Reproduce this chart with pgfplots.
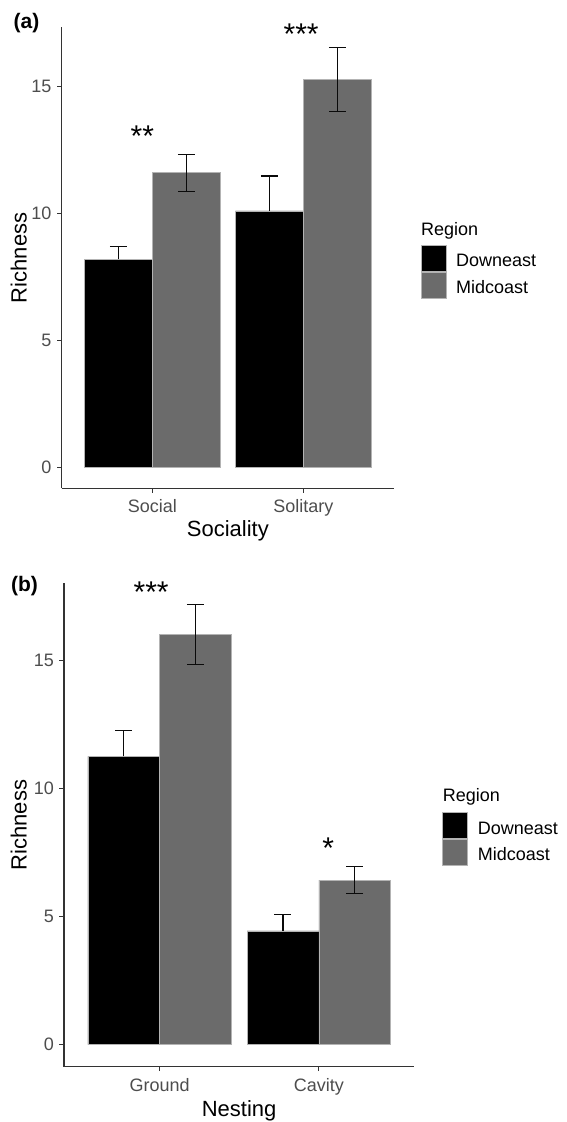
\documentclass[border=0pt]{standalone}
\usepackage{fontspec}
\setmainfont{Liberation Sans}
\usepackage{pgfplots}
\pgfplotsset{compat=1.18}
\definecolor{midgray}{HTML}{6B6B6B}
\definecolor{tickgray}{HTML}{4D4D4D}
\definecolor{axgray}{HTML}{333333}
\definecolor{edgegray}{HTML}{B3B3B3}
\definecolor{errcol}{HTML}{0A0A0A}

\pgfplotsset{
  every axis/.append style={
    scale only axis,
    xmin=-0.6, xmax=1.6,
    axis x line*=bottom, axis y line*=left,
    axis line style={-, draw=axgray, line width=1.1pt},
    tick style={draw=axgray, line width=1.1pt},
    tick align=outside,
    major tick length=4.5pt,
    xtick={0,1}, ytick={0,5,10,15},
    /pgf/number format/assume math mode=true,
    tick label style={font=\fontsize{18}{20}\selectfont, text=tickgray},
    yticklabel style={anchor=east, inner sep=0pt, xshift=-5.5pt},
    xticklabel style={anchor=base, inner sep=0pt},
    label style={font=\fontsize{22}{24}\selectfont, text=black, inner sep=0pt},
    clip=false,
    legend cell align=left,
    legend style={draw=none, fill=none, inner sep=0pt, outer sep=0pt,
      row sep=0pt, column sep=10pt,
      nodes={inner sep=0pt, text height=17pt, text depth=0pt,
        font=\fontsize{18}{20}\selectfont, text=black}},
  },
  keyimg/.style={legend image code/.code={%
    \draw[##1,/tikz/.cd] (0pt,-13pt) rectangle (25pt,13pt);}},
  errsty/.style={error bars/.cd, y dir=#1, y explicit,
    error mark=|,
    error bar style={draw=errcol, line width=1.2pt},
    error mark options={draw=errcol, line width=1.2pt, mark size=8.5pt}},
  barD/.style={fill=black, draw=edgegray, line width=0.5pt, bar shift=-0.225,
    keyimg, errsty=plus},
  barM/.style={fill=midgray, draw=edgegray, line width=0.5pt, bar shift=0.225,
    keyimg, errsty=both},
}

\begin{document}
\begin{tikzpicture}
\path[use as bounding box] (0,0) rectangle (566pt,-1122pt);

% ---------- panel (a)
\begin{axis}[
  at={(61.7pt,-488.3pt)}, anchor=south west,
  width=332.3pt, height=461pt,
  ybar, bar width=0.45,
  ymin=-0.825, ymax=17.325,
  xticklabels={Social,Solitary},
  xticklabel style={yshift=-19.7pt},
  xlabel={Sociality}, ylabel={Richness},
  xlabel style={at={(axis description cs:0.5,-0.1046)}, anchor=base},
  ylabel style={at={(axis description cs:-0.1059,0.5)}, anchor=base},
  legend style={at={(axis description cs:1,1)}, anchor=north west,
    xshift=26.7pt, yshift=-194.7pt},
]
\addlegendimage{empty legend}
\addlegendentry[text height=13pt, text depth=10pt]{\hspace*{-35pt}Region}
\addplot[barD] coordinates {(0,8.2) +- (0,0.5) (1,10.1) +- (0,1.37)};
\addlegendentry{Downeast}
\addplot[barM] coordinates {(0,11.6) +- (0,0.73) (1,15.27) +- (0,1.25)};
\addlegendentry{Midcoast}
\node[font=\fontsize{30}{30}\selectfont, anchor=base] at (axis cs:-0.066,12.62) {**};
\node[font=\fontsize{30}{30}\selectfont, anchor=base] at (axis cs:0.985,16.64) {***};
\end{axis}

% ---------- panel (b)
\begin{axis}[
  at={(64pt,-1066.7pt)}, anchor=south west,
  width=350.3pt, height=483.4pt,
  ybar, bar width=0.45,
  ymin=-0.86, ymax=18.03,
  xticklabels={Ground,Cavity},
  xticklabel style={yshift=-20.5pt},
  xlabel={Nesting}, ylabel={Richness},
  xlabel style={at={(axis description cs:0.5,-0.103)}, anchor=base},
  ylabel style={at={(axis description cs:-0.107,0.5)}, anchor=base},
  legend style={at={(axis description cs:1,1)}, anchor=north west,
    xshift=28pt, yshift=-205.4pt},
]
\addlegendimage{empty legend}
\addlegendentry[text height=13pt, text depth=10.6pt]{\hspace*{-35pt}Region}
\addplot[barD] coordinates {(0,11.27) +- (0,1.02) (1,4.45) +- (0,0.65)};
\addlegendentry{Downeast}
\addplot[barM] coordinates {(0,16.04) +- (0,1.17) (1,6.43) +- (0,0.52)};
\addlegendentry{Midcoast}
\node[font=\fontsize{30}{30}\selectfont, anchor=base] at (axis cs:-0.053,17.27) {***};
\node[font=\fontsize{30}{30}\selectfont, anchor=base] at (axis cs:1.06,7.29) {*};
\end{axis}

\node[anchor=base west, font=\bfseries\fontsize{21}{21}\selectfont] at (10.2pt,-28.9pt) {(a)};
\node[anchor=base west, font=\bfseries\fontsize{21}{21}\selectfont] at (7.5pt,-591.3pt) {(b)};
\end{tikzpicture}
\end{document}
